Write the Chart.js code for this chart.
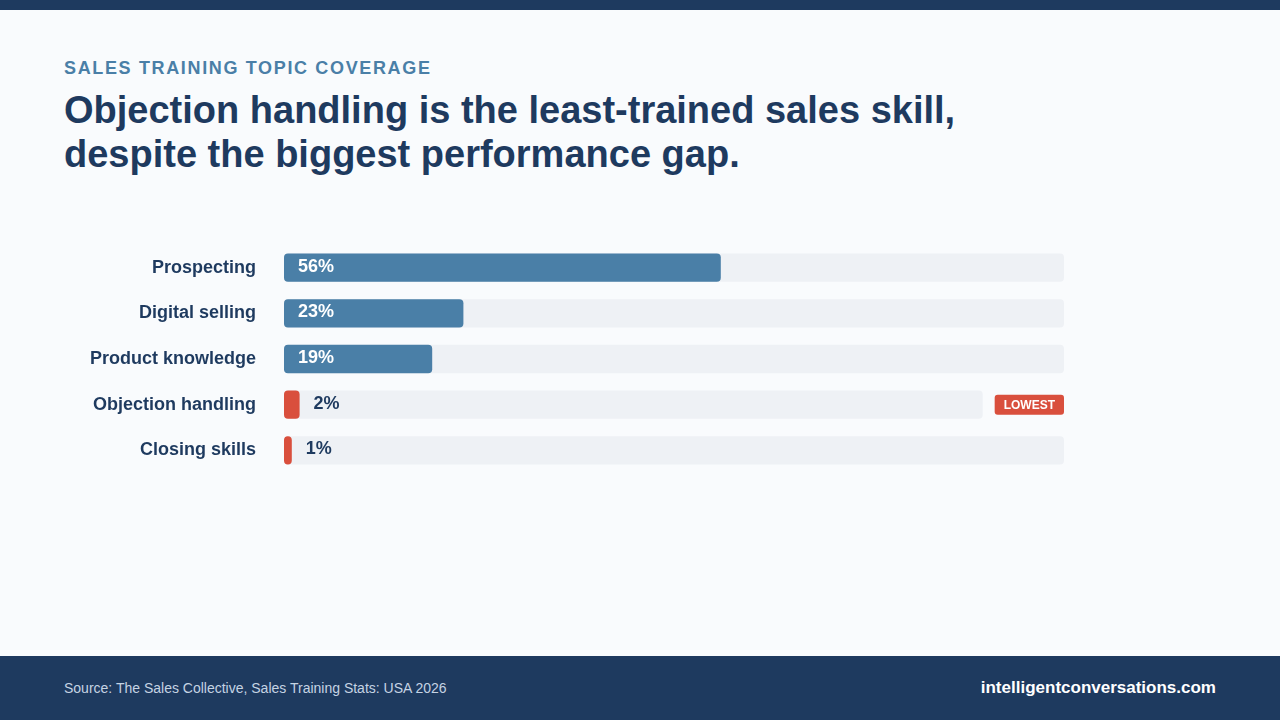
<!DOCTYPE html>
<html>
<head>
<meta charset="utf-8">
<script src="https://cdn.jsdelivr.net/npm/chart.js@4"></script>
<style>
  html, body { margin: 0; padding: 0; }
  body { width: 1280px; height: 720px; background: #f9fbfd; font-family: "Liberation Sans", Arial, sans-serif; position: relative; overflow: hidden; }
  .topbar { position: absolute; left: 0; top: 0; width: 1280px; height: 10px; background: #1e3a5f; }
  .kicker { position: absolute; left: 64px; top: 58px; font-size: 18px; font-weight: bold; letter-spacing: 1.65px; color: #4a7fa7; }
  h1 { position: absolute; left: 64px; top: 88px; margin: 0; font-size: 38px; line-height: 44px; font-weight: bold; color: #1e3a5f; }
  .wrap { position: absolute; left: 64px; top: 214px; width: 1000px; height: 290px; }
  .footer { position: absolute; left: 0; top: 656px; width: 1280px; height: 64px; background: #1e3a5f; }
  .src { position: absolute; left: 64px; top: 24px; font-size: 14px; color: #c5d3e3; }
  .site { position: absolute; right: 64px; top: 22px; font-size: 17px; font-weight: bold; color: #ffffff; }
</style>
</head>
<body>
<div class="topbar"></div>
<div class="kicker">SALES TRAINING TOPIC COVERAGE</div>
<h1>Objection handling is the least-trained sales skill,<br>despite the biggest performance gap.</h1>
<div class="wrap"><canvas id="chartTopics" width="1000" height="290" style="width:1000px;height:290px"></canvas></div>
<div class="footer">
  <div class="src">Source: The Sales Collective, Sales Training Stats: USA 2026</div>
  <div class="site">intelligentconversations.com</div>
</div>
<script>
// --- DATA ---
const topics = ['Prospecting', 'Digital selling', 'Product knowledge', 'Objection handling', 'Closing skills'];
const coverage = [56, 23, 19, 2, 1];
const flagged = [false, false, false, true, false];

const colorBlue = '#4a7fa7';
const colorRed = '#d94f3d';
const colorNavy = '#1e3a5f';
const colorTrack = '#eef1f5';

function roundRect(ctx, x, y, w, h, r) {
    ctx.beginPath();
    ctx.roundRect(x, y, w, h, r);
    ctx.fill();
}

// tracks behind bars + badge + value labels
const trackPlugin = {
    id: 'tracks',
    beforeDatasetsDraw(chart) {
        const ctx = chart.ctx, xs = chart.scales.x;
        const meta = chart.getDatasetMeta(0);
        ctx.save();
        meta.data.forEach((bar, i) => {
            const h = bar.height;
            const x0 = xs.getPixelForValue(0);
            let x1 = xs.getPixelForValue(100);
            if (flagged[i]) {
                ctx.font = 'bold 12px "Liberation Sans", Arial';
                const bw = ctx.measureText('LOWEST').width + 18;
                ctx.fillStyle = colorRed;
                roundRect(ctx, x1 - bw, bar.y - 10, bw, 20, 3);
                ctx.fillStyle = '#fff';
                ctx.textAlign = 'center';
                ctx.textBaseline = 'middle';
                ctx.fillText('LOWEST', x1 - bw / 2, bar.y + 1);
                x1 -= bw + 12;
            }
            ctx.fillStyle = colorTrack;
            roundRect(ctx, x0, bar.y - h / 2, x1 - x0, h, 4);
        });
        ctx.restore();
    },
    afterDatasetsDraw(chart) {
        const ctx = chart.ctx, xs = chart.scales.x;
        const meta = chart.getDatasetMeta(0);
        ctx.save();
        ctx.font = 'bold 18px "Liberation Sans", Arial';
        ctx.textBaseline = 'middle';
        ctx.textAlign = 'left';
        meta.data.forEach((bar, i) => {
            const v = coverage[i];
            if (v >= 5) {
                ctx.fillStyle = '#fff';
                ctx.fillText(v + '%', xs.getPixelForValue(0) + 14, bar.y - 1);
            } else {
                ctx.fillStyle = colorNavy;
                ctx.fillText(v + '%', bar.x + 14, bar.y - 1);
            }
        });
        ctx.restore();
    }
};

new Chart(document.getElementById('chartTopics'), {
    type: 'bar',
    data: {
        labels: topics,
        datasets: [{
            data: coverage,
            backgroundColor: coverage.map(v => v < 5 ? colorRed : colorBlue),
            borderRadius: 4,
            borderSkipped: false,
            barPercentage: 0.62,
            categoryPercentage: 1
        }]
    },
    options: {
        indexAxis: 'y',
        responsive: false,
        animation: false,
        devicePixelRatio: 1,
        layout: { padding: 0 },
        plugins: { legend: { display: false }, tooltip: { enabled: false } },
        scales: {
            x: { min: 0, max: 100, display: false },
            y: {
                grid: { display: false },
                border: { display: false },
                afterFit(axis) { axis.width = 220; },
                ticks: {
                    padding: 20,
                    color: colorNavy,
                    font: { family: '"Liberation Sans", Arial', size: 18, weight: 'bold' }
                }
            }
        }
    },
    plugins: [trackPlugin]
});
</script>
</body>
</html>
